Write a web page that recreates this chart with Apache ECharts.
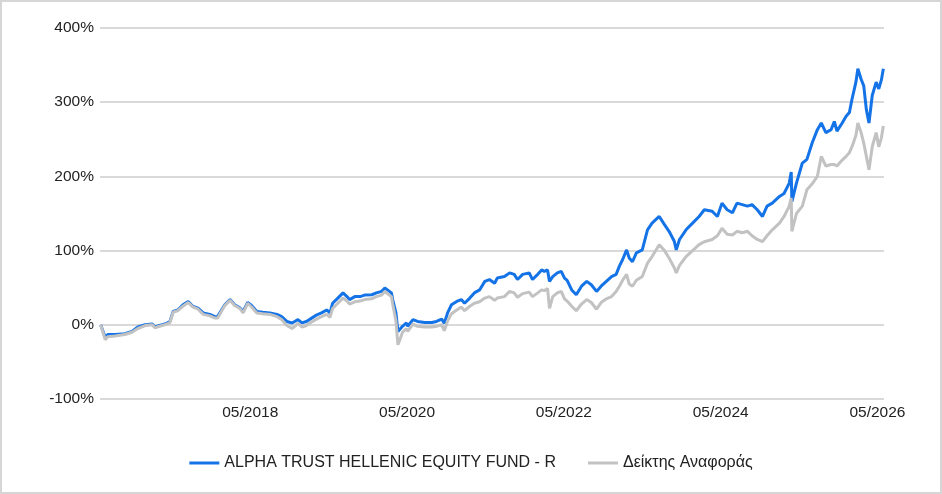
<!DOCTYPE html>
<html>
<head>
<meta charset="utf-8">
<script src="https://cdn.jsdelivr.net/npm/echarts@6.0.0/dist/echarts.min.js"></script>
<style>
  html, body { margin: 0; padding: 0; background: #fff; }
  #chart { width: 942px; height: 494px; }
</style>
</head>
<body>
<div id="chart"></div>
<script>
  // x = months since 06/2016, values in %
  var months = [0.1, 0.8, 1.2, 2.3, 3.8, 4.9, 5.8, 6.9, 8.0, 8.4, 9.5, 10.2, 10.7, 11.2, 11.9, 12.7, 13.5, 14.2, 15.0, 15.8,
    16.8, 17.6, 18.0, 19.1, 19.9, 20.6, 21.4, 21.9, 22.6, 23.2, 24.0, 24.9, 26.0, 27.1, 27.8, 28.6, 29.4, 29.8, 30.3, 30.9,
    31.6, 32.4, 33.2, 33.9, 34.7, 35.2, 35.6, 36.4, 37.2, 37.8, 38.2, 39.0, 39.8, 40.5, 41.6, 42.3, 43.1, 43.6, 44.0, 44.6,
    44.8, 45.3, 45.6, 45.9, 46.3, 46.9, 47.1, 47.9, 48.6, 49.7, 50.8, 51.5, 52.3, 52.7, 53.2, 53.8, 54.6, 55.3, 55.8, 56.6,
    57.3, 58.1, 58.9, 59.6, 60.4, 60.8, 61.9, 62.7, 63.4, 63.9, 64.7, 65.7, 66.2, 67.0, 67.6, 68.0, 68.5, 68.8, 69.3, 70.0,
    70.6, 71.1, 71.5, 72.2, 72.9, 73.7, 74.5, 75.2, 76.0, 76.7, 77.5, 78.3, 79.0, 79.5, 80.0, 80.6, 81.0, 81.5, 82.1, 83.0,
    83.8, 84.5, 85.6, 86.4, 87.1, 87.9, 88.2, 88.7, 89.7, 90.7, 91.7, 92.5, 93.7, 94.5, 95.2, 96.0, 96.8, 97.5, 98.3, 99.1,
    99.8, 100.6, 101.4, 102.1, 102.9, 104.0, 104.7, 105.5, 105.8, 105.9, 106.6, 107.5, 108.2, 109.0, 109.8, 110.4, 111.1, 111.9, 112.4, 112.8,
    113.6, 114.2, 114.7, 115.1, 115.7, 116.0, 116.5, 116.9, 117.3, 117.7, 118.2, 118.8, 119.2, 119.6, 119.9];

  var fund = [0, -17, -13, -13, -12, -9, -3, 0, 1, -3, 0, 2, 4.5, 18, 20, 27, 31.5, 25, 22.5, 16,
    14, 11, 11, 27, 34, 27, 23, 18, 30, 26, 18, 17, 16, 14, 11, 4.5, 2.5, 4.5, 7, 2.5,
    4.5, 9, 13.5, 16, 20, 16, 29, 36, 43, 38, 34, 38, 38, 40, 40.5, 43, 45, 49.5, 47, 43,
    34, 16, -9, -7, -2, 2.5, -2, 7, 4.5, 3, 3, 4.5, 7.6, 2, 16, 27, 31.5, 34, 29, 36,
    43, 47, 58.5, 61, 56, 63, 65, 70, 68, 61, 68, 70, 61, 68, 74, 72, 74, 58.5, 65, 70,
    72, 63, 60, 47, 40.5, 52, 58.5, 54, 45, 52, 58.5, 65, 68, 79, 88, 101, 90, 85, 97, 101,
    128, 137, 146, 135, 126, 112.6, 101, 115, 128, 137, 146, 155, 153, 146, 164, 155, 151, 164, 162, 160,
    162, 155, 146, 160, 164, 173, 177, 191, 206, 166, 191, 218, 223, 245, 263, 272, 259, 263, 274, 261,
    272, 281, 286, 304, 327, 345, 331, 322, 290, 272, 309, 327, 318, 330, 345];

  var benchmark = [0, -20, -16, -15, -13, -10, -5, -1, 0, -4, -1, 1, 3, 17, 19, 25, 30, 24, 21, 14,
    12, 9, 9, 26, 33, 26, 22, 16, 29, 24, 16, 15, 14, 11, 7, -1, -5, -2, 2, -3,
    -1, 4, 8, 11, 14, 10, 22, 29, 36, 32, 28, 31, 32, 34, 35, 38, 40, 45, 42, 38,
    28, 5, -27, -20, -10, -5, -9, 1, -2, -3, -3, -2, 0, -8, 5, 15, 20, 24, 19, 25,
    29, 31, 36, 38, 33, 36, 38, 45, 43, 37, 42, 44, 38, 43, 47, 46, 49, 22, 38, 43,
    45, 35, 32, 25, 19, 28, 34, 30, 21, 30, 35, 38, 45, 52, 60, 68, 55, 52, 60, 65,
    83, 92, 108, 100, 90, 77, 70, 80, 92, 100, 108, 112, 115, 120, 130, 122, 121, 126, 124, 126,
    120, 115, 112, 120, 128, 137, 146, 160, 171, 126, 150, 160, 182, 190, 200, 227, 214, 216, 216, 214,
    222, 227, 232, 240, 255, 272, 259, 245, 227, 209, 240, 259, 240, 252, 268];

  var seriesNames = ['ALPHA TRUST HELLENIC EQUITY FUND - R', 'Δείκτης Αναφοράς'];
  var tickMonths = [23, 47, 71, 95, 119];
  var tickLabels = ['05/2018', '05/2020', '05/2022', '05/2024', '05/2026'];

  function pairs(vals) {
    return vals.map(function (v, i) { return [months[i], v]; });
  }

  var chart = echarts.init(document.getElementById('chart'));
  chart.setOption({
    animation: false,
    textStyle: { fontFamily: 'Liberation Sans, Arial, sans-serif' },
    graphic: [{
      type: 'rect',
      shape: { x: 1, y: 1, width: 940, height: 492 },
      style: { fill: 'none', stroke: '#d6d6d6', lineWidth: 2 },
      silent: true
    }],
    grid: { left: 100, right: 58, top: 28, bottom: 95 },
    legend: {
      bottom: 18,
      left: 'center',
      icon: 'rect',
      itemWidth: 30,
      itemHeight: 3,
      itemGap: 32,
      textStyle: { fontSize: 16, color: '#222' },
      data: seriesNames
    },
    xAxis: {
      type: 'value',
      min: 0,
      max: 120,
      axisLine: { show: false },
      axisTick: { show: false },
      splitLine: { show: false },
      axisLabel: {
        customValues: tickMonths,
        fontSize: 15.5,
        color: '#222',
        margin: 6,
        formatter: function (v) {
          var i = tickMonths.indexOf(Math.round(v));
          return i >= 0 ? tickLabels[i] : '';
        }
      }
    },
    yAxis: {
      type: 'value',
      min: -100,
      max: 400,
      interval: 100,
      axisLine: { show: false },
      axisTick: { show: false },
      axisLabel: { formatter: '{value}%', fontSize: 15.5, color: '#222', margin: 6 },
      splitLine: { lineStyle: { color: '#d9d9d9', width: 2 } }
    },
    series: [
      {
        name: seriesNames[0],
        type: 'line',
        data: pairs(fund),
        showSymbol: false,
        color: '#1473e6',
        lineStyle: { width: 3, color: '#1473e6' }
      },
      {
        name: seriesNames[1],
        type: 'line',
        data: pairs(benchmark),
        showSymbol: false,
        color: '#c2c2c2',
        lineStyle: { width: 3, color: '#c2c2c2' }
      }
    ]
  });
</script>
</body>
</html>
